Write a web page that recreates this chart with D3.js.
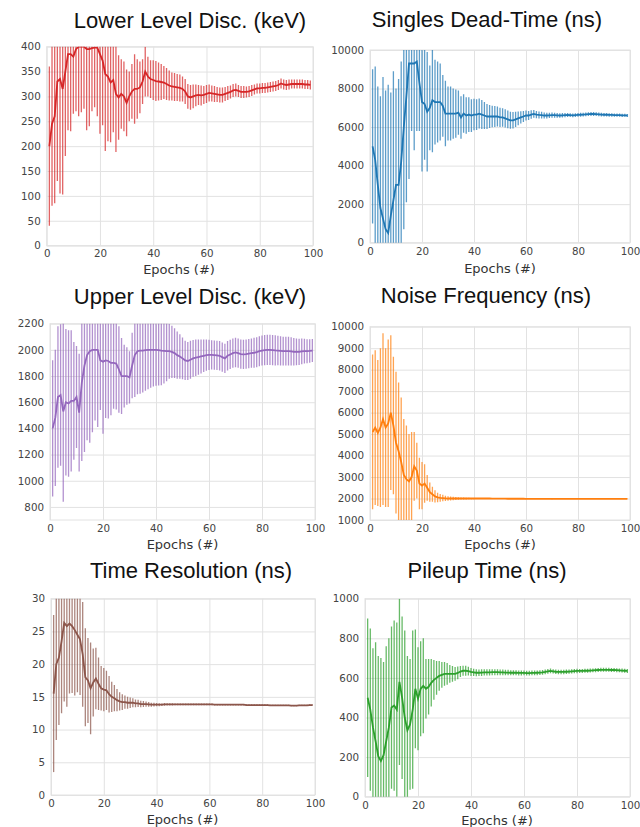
<!DOCTYPE html>
<html>
<head>
<meta charset="utf-8">
<script src="https://cdnjs.cloudflare.com/ajax/libs/d3/7.8.5/d3.min.js"></script>
<style>
  body { margin: 0; background: #fff; }
  .tick text { font-family: "DejaVu Sans", sans-serif; font-size: 10.3px; fill: #444; }
  .tick line { stroke: #e2e2e2; }
</style>
</head>
<body>
<script>
// epochs 1..99 on the x axis
var epochs = d3.range(1, 100);
var xTicks = [0, 20, 40, 60, 80, 100];

// Lower Level Disc. (keV)
var lldMean = [200,245,260,330,335,315,350,385,385,380,
  395,400,400,400,395,395,397,398,398,385,
  372,345,340,328,333,305,298,305,300,287,
  300,310,315,315,318,330,350,340,335,333,
  331,330,329,328,325,322,320,319,318,317,
  315,310,300,298,300,302,303,302,303,305,
  307,306,305,304,303,303,305,307,309,312,
  313,311,309,309,309,310,312,314,316,316,
  317,317,318,319,320,321,323,326,324,323,
  324,325,325,325,325,325,324,324,323];
var lldErr = [160,165,175,200,230,212,170,153,155,115,
  125,140,132,125,163,155,127,120,138,160,
  130,155,130,120,105,117,85,70,70,67,
  50,55,70,60,52,45,50,40,38,40,
  40,38,36,33,32,30,28,28,27,27,
  25,25,25,25,24,22,20,20,18,18,
  17,16,16,15,15,15,14,14,13,13,
  13,12,12,12,11,11,11,10,10,10,
  10,10,10,10,10,10,10,10,10,10,
  10,9,9,9,9,9,9,9,9];

// Singles Dead-Time (ns)
var sdtMean = [5000,4300,3000,1800,1250,700,500,1400,2200,3000,
  3000,4200,6000,7600,9300,9300,9300,9400,8300,7300,
  7200,6800,7000,7400,7300,7300,7300,7100,6700,6700,
  6700,6700,6700,6750,6500,6700,6600,6650,6600,6650,
  6650,6700,6650,6600,6550,6550,6550,6550,6550,6500,
  6500,6450,6400,6350,6350,6400,6450,6500,6550,6600,
  6600,6650,6680,6650,6630,6620,6600,6600,6610,6620,
  6620,6610,6600,6610,6620,6630,6620,6610,6620,6630,
  6640,6650,6660,6670,6680,6680,6670,6660,6650,6640,
  6640,6630,6630,6620,6620,6620,6610,6610,6600];
var sdtErr = [4000,4850,5100,5800,7350,7200,7700,6400,6700,5000,
  5500,5200,5300,5500,6000,3500,4500,3600,2500,3600,
  2900,3100,2200,2700,2200,2100,2000,1600,1700,1400,
  1400,1300,1250,1150,1100,1000,950,900,850,820,
  800,780,750,700,650,600,560,540,520,500,
  480,470,460,440,430,400,360,320,290,260,
  230,220,200,190,180,170,160,150,140,135,
  130,125,120,115,110,105,100,100,100,100,
  100,100,100,100,100,100,95,95,95,90,
  90,90,90,85,85,85,85,80,80];

// Upper Level Disc. (keV)
var uldMean = [1400,1480,1640,1655,1530,1600,1590,1610,1610,1640,
  1520,1750,1880,1960,1990,2000,2000,2000,1920,1910,
  1920,1915,1900,1900,1895,1850,1800,1800,1800,1790,
  1880,1960,1990,1995,1995,1998,2000,2000,2000,2000,
  1998,1995,1993,1990,1990,1985,1975,1960,1950,1935,
  1920,1915,1925,1935,1940,1945,1950,1955,1960,1962,
  1962,1960,1958,1955,1945,1935,1955,1965,1975,1980,
  1975,1968,1965,1968,1972,1975,1978,1982,1990,1995,
  1998,2000,2000,1998,1996,1995,1993,1990,1990,1990,
  1988,1985,1985,1985,1988,1990,1990,1992,1995];
var uldErr = [520,520,540,540,690,560,560,540,450,390,
  450,600,660,650,700,630,540,590,380,550,
  440,440,400,350,350,330,290,240,220,200,
  250,320,330,330,320,310,300,290,280,275,
  270,265,250,230,210,200,190,180,170,160,
  150,145,145,140,140,135,130,125,120,115,
  112,112,112,112,112,112,112,112,112,112,
  112,112,112,112,112,112,115,115,115,115,
  115,115,115,115,115,112,112,110,110,110,
  108,105,102,100,98,95,92,90,88];

// Noise Frequency (ns)
var nfMean = [5100,5300,5050,5300,5700,5300,5500,6000,5400,4600,
  4200,3700,3100,2900,2800,3000,3500,3300,2700,2600,
  2700,2500,2300,2200,2100,2050,2030,2020,2010,2000,
  2000,2000,2000,2000,2000,2000,2000,2000,2000,2000,
  2000,2000,2000,2000,2000,2000,1995,1995,1995,1995,
  1995,1995,1990,1990,1990,1990,1990,1990,1990,1985,
  1985,1985,1985,1985,1985,1985,1985,1985,1985,1980,
  1985,1985,1985,1985,1985,1985,1985,1985,1985,1985,
  1985,1985,1985,1985,1985,1985,1985,1985,1985,1985,
  1985,1985,1985,1985,1985,1985,1985,1985,1985];
var nfErr = [3600,3600,3400,3700,4000,3700,3900,3600,3200,3300,
  3200,3000,2600,2500,2200,2100,1600,1300,1200,1100,
  900,600,450,350,280,220,180,150,120,100,
  90,80,70,60,50,45,40,35,30,30,
  28,26,24,22,20,20,18,18,16,16,
  15,15,15,15,15,15,15,15,15,15,
  12,12,12,12,12,12,12,12,12,12,
  12,12,12,12,12,12,12,12,12,12,
  10,10,10,10,10,10,10,10,10,10,
  10,10,10,10,10,10,10,10,10];

// Time Resolution (ns)
var trMean = [15.5,20,21,23.5,26.3,25.8,26.2,25.8,25.2,24.5,
  23.8,21.5,18,17.5,16.3,17.2,17.8,17,16.3,16.1,
  16,15.4,15,14.8,14.5,14.3,14.2,14.2,14.1,14.1,
  14.1,14,14,13.9,13.9,13.9,13.85,13.8,13.8,13.8,
  13.8,13.8,13.85,13.85,13.85,13.85,13.85,13.85,13.85,13.85,
  13.85,13.85,13.85,13.85,13.85,13.85,13.85,13.85,13.85,13.85,
  13.85,13.8,13.8,13.8,13.8,13.8,13.8,13.8,13.8,13.8,
  13.8,13.8,13.8,13.75,13.75,13.75,13.75,13.75,13.75,13.75,
  13.75,13.75,13.7,13.7,13.7,13.7,13.7,13.7,13.7,13.7,
  13.65,13.65,13.65,13.7,13.7,13.7,13.7,13.75,13.75];
var trErr = [12,11.6,10.3,11,12,12.3,10.7,10.2,10,8.8,
  8.5,8,7.5,6.5,7,5.2,4.7,4,3.4,3.3,
  3,2.8,2.3,2,1.7,1.4,1.2,1,0.9,0.8,
  0.7,0.6,0.55,0.5,0.45,0.4,0.35,0.3,0.28,0.25,
  0.22,0.2,0.2,0.18,0.18,0.16,0.15,0.15,0.14,0.14,
  0.13,0.13,0.13,0.13,0.13,0.13,0.13,0.13,0.13,0.13,
  0.12,0.12,0.12,0.12,0.12,0.12,0.12,0.12,0.12,0.12,
  0.11,0.11,0.11,0.11,0.11,0.11,0.11,0.11,0.11,0.11,
  0.1,0.1,0.1,0.1,0.1,0.1,0.1,0.1,0.1,0.1,
  0.1,0.1,0.1,0.1,0.1,0.1,0.1,0.1,0.1];

// Pileup Time (ns)
var puMean = [500,440,350,280,205,180,210,280,350,450,
  460,440,580,500,400,335,365,440,545,495,
  545,560,545,555,575,590,600,610,615,620,
  620,620,620,620,625,632,636,636,634,630,
  628,626,626,627,628,628,628,629,629,629,
  628,628,627,627,626,626,626,625,625,625,
  624,624,625,625,626,627,628,630,633,635,
  633,631,630,630,630,631,632,633,634,635,
  635,635,636,636,637,638,639,640,641,641,
  641,641,640,640,639,638,637,636,635];
var puErr = [400,410,400,500,505,520,470,480,450,410,
  430,440,420,410,440,375,330,400,300,260,
  240,240,150,140,120,100,85,75,65,60,
  55,45,40,35,32,28,25,25,22,20,
  18,18,17,17,16,16,16,15,15,15,
  14,14,14,14,13,13,13,13,13,12,
  12,12,12,12,12,12,12,12,12,12,
  11,11,11,11,11,11,11,11,11,11,
  10,10,10,10,10,10,10,10,10,10,
  10,10,10,10,10,10,10,10,10];

var panels = [
  {title: "Lower Level Disc. (keV)", mean: lldMean, err: lldErr, color: "#d62728",
   domain: [0, 400], ticks: d3.range(0, 401, 50),
   left: 46.7, right: 313, top: 46.7, bottom: 245.6, tx: 190, ty: 27.5, lx: 179, ly: 274},
  {title: "Singles Dead-Time (ns)", mean: sdtMean, err: sdtErr, color: "#1f77b4",
   domain: [0, 10000], ticks: d3.range(0, 10001, 2000),
   left: 370, right: 630, top: 50, bottom: 242.7, tx: 487, ty: 27, lx: 500, ly: 272.5},
  {title: "Upper Level Disc. (keV)", mean: uldMean, err: uldErr, color: "#9467bd",
   domain: [700, 2200], ticks: d3.range(800, 2201, 200),
   left: 50, right: 315, top: 323.7, bottom: 520, tx: 190, ty: 304, lx: 182.5, ly: 549},
  {title: "Noise Frequency (ns)", mean: nfMean, err: nfErr, color: "#ff7f0e",
   domain: [1000, 10000], ticks: d3.range(1000, 10001, 1000),
   left: 370, right: 630, top: 326.7, bottom: 520, tx: 486, ty: 303, lx: 500, ly: 549},
  {title: "Time Resolution (ns)", mean: trMean, err: trErr, color: "#8c564b",
   domain: [0, 30], ticks: d3.range(0, 31, 5),
   left: 51, right: 315, top: 598.7, bottom: 795, tx: 191, ty: 578, lx: 182.5, ly: 824},
  {title: "Pileup Time (ns)", mean: puMean, err: puErr, color: "#2ca02c",
   domain: [0, 1000], ticks: d3.range(0, 1001, 200),
   left: 365, right: 630, top: 598.7, bottom: 796.7, tx: 487, ty: 578, lx: 497, ly: 825}
];

var svg = d3.select("body").append("svg")
    .attr("width", 640)
    .attr("height", 827);

svg.append("rect").attr("width", 640).attr("height", 827).attr("fill", "#fff");

panels.forEach(function(p, i) {
  var w = p.right - p.left;
  var h = p.bottom - p.top;
  var x = d3.scaleLinear().domain([0, 100]).range([0, w]);
  var y = d3.scaleLinear().domain(p.domain).range([h, 0]);

  var g = svg.append("g")
      .attr("transform", "translate(" + p.left + "," + p.top + ")");

  g.append("clipPath").attr("id", "clip" + i)
    .append("rect").attr("width", w).attr("height", h);

  // grid + tick labels
  var ya = g.append("g")
      .call(d3.axisLeft(y).tickValues(p.ticks).tickFormat(d3.format("d"))
        .tickSize(-w).tickPadding(6));
  ya.select(".domain").remove();

  var xa = g.append("g")
      .attr("transform", "translate(0," + h + ")")
      .call(d3.axisBottom(x).tickValues(xTicks).tickFormat(d3.format("d"))
        .tickSize(-h).tickPadding(4.5));
  xa.select(".domain").remove();

  g.append("rect")
    .attr("width", w).attr("height", h)
    .attr("fill", "none").attr("stroke", "#e2e2e2");

  var plot = g.append("g").attr("clip-path", "url(#clip" + i + ")");

  // error bars
  plot.selectAll(".bar")
    .data(epochs)
    .enter().append("line")
    .attr("class", "bar")
    .attr("x1", function(d) { return x(d); })
    .attr("x2", function(d) { return x(d); })
    .attr("y1", function(d, k) { return y(p.mean[k] - p.err[k]); })
    .attr("y2", function(d, k) { return y(p.mean[k] + p.err[k]); })
    .attr("stroke", p.color)
    .attr("stroke-opacity", 0.72)
    .attr("stroke-width", 1.3);

  // mean line
  var line = d3.line()
      .x(function(d) { return x(d); })
      .y(function(d, k) { return y(p.mean[k]); });

  plot.append("path")
    .datum(epochs)
    .attr("d", line)
    .attr("fill", "none")
    .attr("stroke", p.color)
    .attr("stroke-width", 1.8);

  svg.append("text")
    .attr("x", p.tx)
    .attr("y", p.ty)
    .attr("text-anchor", "middle")
    .attr("font-family", "'Liberation Sans', Arial, sans-serif")
    .attr("font-size", "22px")
    .attr("fill", "#111")
    .text(p.title);

  svg.append("text")
    .attr("x", p.lx)
    .attr("y", p.ly)
    .attr("text-anchor", "middle")
    .attr("font-family", "'DejaVu Sans', sans-serif")
    .attr("font-size", "13px")
    .attr("fill", "#333")
    .text("Epochs (#)");
});
</script>
</body>
</html>
